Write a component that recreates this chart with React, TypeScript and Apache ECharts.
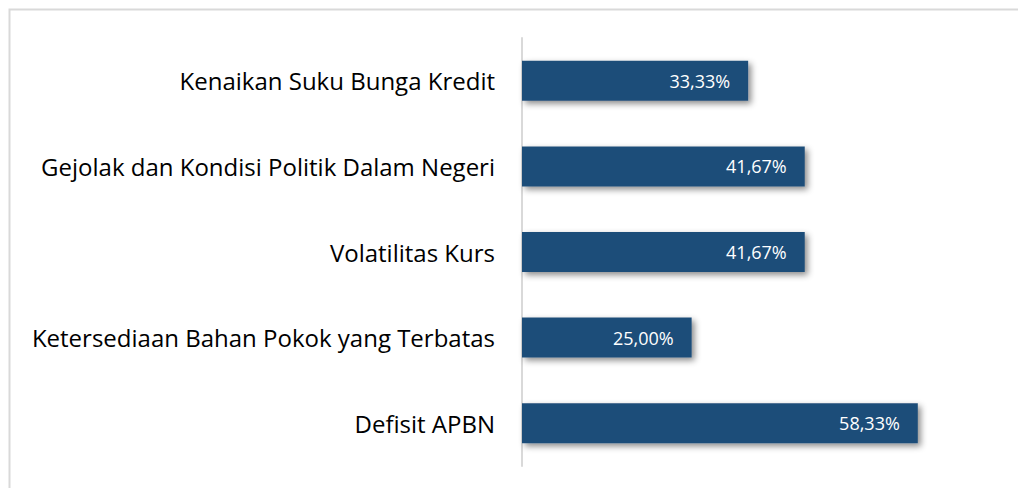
import React, { useEffect, useRef } from "react";
import * as echarts from "echarts";

const categories = [
  "Kenaikan Suku Bunga Kredit",
  "Gejolak dan Kondisi Politik Dalam Negeri",
  "Volatilitas Kurs",
  "Ketersediaan Bahan Pokok yang Terbatas",
  "Defisit APBN",
];
const values = [33.33, 41.67, 41.67, 25.0, 58.33];

export default function App() {
  const ref = useRef<HTMLDivElement>(null);
  useEffect(() => {
    if (!ref.current) return;
    const chart = echarts.init(ref.current, null, { renderer: "svg" });
    chart.setOption({
      animation: false,
      backgroundColor: "#ffffff",
      graphic: [
        {
          type: "rect",
          shape: { x: 9.5, y: 9.5, width: 1200, height: 700 },
          style: { fill: "none", stroke: "#d9d9d9", lineWidth: 2 },
          silent: true,
        },
      ],
      grid: { left: 522, right: 21, top: 38, bottom: 22, containLabel: false },
      xAxis: {
        type: "value",
        min: 0,
        max: 70,
        show: false,
      },
      yAxis: {
        type: "category",
        inverse: true,
        data: categories,
        axisLine: { show: true, lineStyle: { color: "#d9d9d9", width: 2 } },
        axisTick: { show: false },
        axisLabel: {
          color: "#000000",
          fontFamily: "Open Sans",
          fontSize: 24,
          margin: 27,
        },
      },
      series: [
        {
          type: "bar",
          data: values,
          barWidth: 40,
          itemStyle: {
            color: "#1f4e79",
            shadowColor: "rgba(0,0,0,0.45)",
            shadowBlur: 6,
            shadowOffsetX: 3,
            shadowOffsetY: 3,
          },
          label: {
            show: true,
            position: "insideRight",
            distance: 18,
            color: "#ffffff",
            fontFamily: "Open Sans",
            fontSize: 18,
            formatter: (p: any) => p.value.toFixed(2).replace(".", ",") + "%",
          },
        },
      ],
    });
    return () => chart.dispose();
  }, []);
  return (
    <div
      ref={ref}
      style={{ position: "fixed", left: 0, top: 0, width: 1018, height: 488 }}
    />
  );
}
